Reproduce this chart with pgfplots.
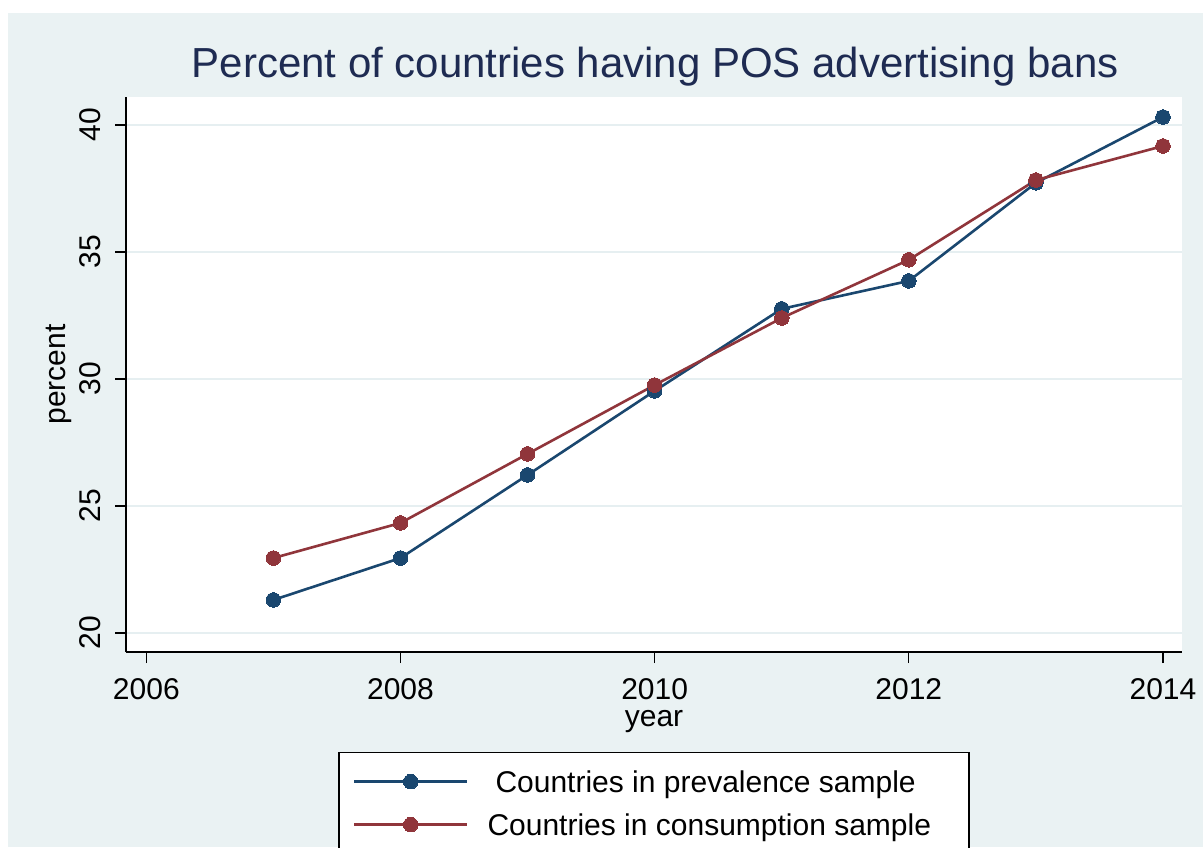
\documentclass[border=0pt]{standalone}
\usepackage{pgfplots}
\pgfplotsset{compat=1.18}
\usepackage{fontspec}
\setmainfont{Liberation Sans}
\definecolor{bg}{HTML}{EAF2F3}
\definecolor{gridc}{HTML}{E6EFF1}
\definecolor{sblue}{HTML}{1A476F}
\definecolor{sred}{HTML}{90353B}
\definecolor{ttl}{HTML}{1E2B52}
\begin{document}
\begin{tikzpicture}[x=1pt,y=1pt]
\useasboundingbox (0,0) rectangle (1203,-847);
\fill[bg] (8,-13) rectangle (1203,-847);
\begin{axis}[
  at={(126pt,-652pt)}, anchor=south west,
  width=1056pt, height=555pt, scale only axis,
  xmin=2005.84, xmax=2014.15, ymin=19.25, ymax=41.1,
  axis background/.style={fill=white},
  axis x line*=bottom, axis y line*=left,
  axis line style={black, line width=1.4pt, -},
  xtick={2006,2008,2010,2012,2014},
  ytick={20,25,30,35,40},
  tick align=outside,
  major tick length=11pt,
  tick style={black, line width=1.3pt},
  ymajorgrids, grid style={color=gridc, line width=1.8pt},
  /pgf/number format/assume math mode=true,
  /pgf/number format/1000 sep={},
  font=\fontsize{30}{36}\selectfont,
  xticklabel style={inner sep=0pt, anchor=north},
  yticklabel style={inner sep=0pt, rotate=90, anchor=south},
  yticklabel shift=14pt,
  xticklabel shift=15pt,
  title={Percent of countries having POS advertising bans},
  title style={at={(0.501,1)}, anchor=base, yshift=14pt, inner sep=0pt,
    font=\fontsize{42}{50}\selectfont, text=ttl},
  xlabel={year},
  xlabel style={at={(axis description cs:0.5,-0.126)}, anchor=center, inner sep=0pt},
  ylabel={percent},
  ylabel style={at={(axis description cs:-0.0635,0.5)}, anchor=center, inner sep=0pt, rotate=0},
  legend style={at={(axis description cs:0.5,-0.1802)}, anchor=north,
    draw=black, line width=1.3pt, fill=white,
    inner xsep=14pt, inner ysep=18pt, row sep=13pt, column sep=19pt,
    font=\fontsize{30}{36}\selectfont,
    nodes={inner sep=0pt, text height=22pt, text depth=8pt}},
  legend cell align=left,
  legend image code/.code={\draw[#1, mark repeat=2, mark phase=2] plot coordinates {(0pt,4pt)(56.5pt,4pt)(113pt,4pt)};},
]
\addplot[sblue, line width=2.6pt, mark=*, mark size=7.3pt, mark options={solid, fill=sblue, draw=sblue, line width=0pt}]
coordinates {(2007,21.30)(2008,22.95)(2009,26.22)(2010,29.53)(2011,32.76)(2012,33.86)(2013,37.72)(2014,40.31)};
\addlegendentry{\hspace*{8pt}Countries in prevalence sample}
\addplot[sred, line width=2.6pt, mark=*, mark size=7.3pt, mark options={solid, fill=sred, draw=sred, line width=0pt}]
coordinates {(2007,22.95)(2008,24.33)(2009,27.05)(2010,29.76)(2011,32.40)(2012,34.69)(2013,37.83)(2014,39.17)};
\addlegendentry{Countries in consumption sample\hspace*{24pt}}
\end{axis}
\end{tikzpicture}
\end{document}
